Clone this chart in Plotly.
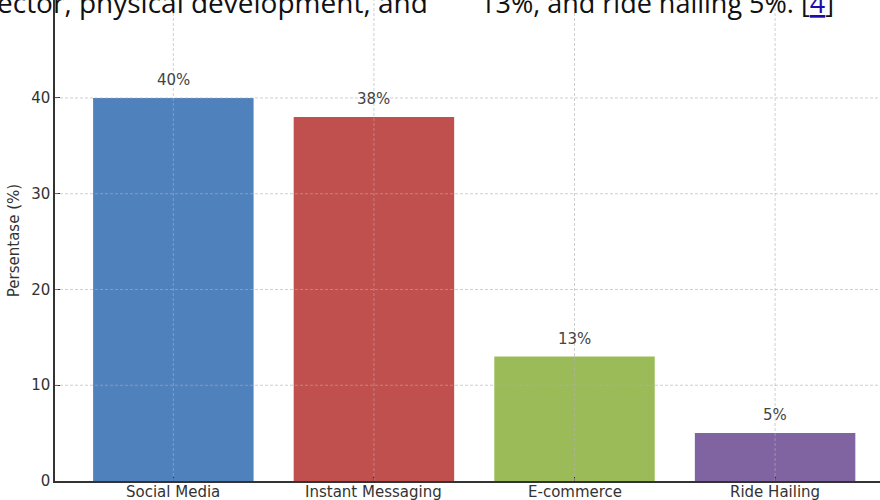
import plotly.graph_objects as go

categories = ["Social Media", "Instant Messaging", "E-commerce", "Ride Hailing"]
values = [40, 38, 13, 5]
labels = ["40%", "38%", "13%", "5%"]
colors = ["#4F81BD", "#C0504D", "#9BBB59", "#8064A2"]
y_ticks = [0, 10, 20, 30, 40]

W, H = 880, 500
ML, MR, MT, MB = 55, 0, 0, 19
PW = W - ML - MR

fig = go.Figure()
fig.add_trace(go.Bar(
    x=list(range(len(categories))), y=values, marker_color=colors,
    marker_line_width=0, width=0.8, hoverinfo="skip",
))

# value labels above bars
for i, (v, lab) in enumerate(zip(values, labels)):
    fig.add_annotation(x=i, y=v, xref="x", yref="y", text=lab, showarrow=False,
                       yanchor="middle", yshift=18,
                       font=dict(family="DejaVu Sans", size=15, color="#444444"))

# category labels placed just under the axis
for i, cat in enumerate(categories):
    fig.add_annotation(x=i, y=0, xref="x", yref="paper", text=cat, showarrow=False,
                       yanchor="top", yshift=-1, borderpad=0,
                       font=dict(family="DejaVu Sans", size=15, color="#333333"))

# grid drawn above bars (as in the reference)
grid = dict(color="rgba(175,175,175,0.6)", width=1, dash="3px,2px")
shapes = []
for v in y_ticks[1:]:
    shapes.append(dict(type="line", xref="paper", yref="y", x0=0, x1=1, y0=v, y1=v,
                       line=grid, layer="above"))
for i in range(len(categories)):
    shapes.append(dict(type="line", xref="x", yref="paper", x0=i, x1=i, y0=0, y1=1,
                       line=grid, layer="above"))

fig.update_layout(
    width=W, height=H, margin=dict(l=ML, r=MR, t=MT, b=MB, autoexpand=False),
    paper_bgcolor="white", plot_bgcolor="white", showlegend=False,
    shapes=shapes,
    font=dict(family="DejaVu Sans", color="#333333"),
)
fig.update_xaxes(
    range=[-0.59, 3.523], tickmode="array", tickvals=list(range(len(categories))),
    showticklabels=False, showgrid=False, zeroline=False, automargin=False,
    showline=True, linecolor="#333333", linewidth=1.5,
    ticks="inside", ticklen=4, tickcolor="#333333",
)
fig.update_yaxes(
    range=[0, 50.23], tickmode="array", tickvals=y_ticks, automargin=False,
    showgrid=False, zeroline=False,
    showline=True, linecolor="#333333", linewidth=1.5,
    ticks="inside", ticklen=5, tickcolor="#333333",
    tickfont=dict(family="DejaVu Sans", size=15, color="#333333"),
    title=dict(text="Persentase (%)", font=dict(family="DejaVu Sans", size=15, color="#333333"), standoff=8),
)

# cropped document text at the top of the image
fig.add_annotation(xref="paper", yref="paper", x=(430 - ML) / PW, y=1.0, xanchor="right", yanchor="middle",
                   text="ector, physical development, and", showarrow=False, yshift=-2,
                   font=dict(family="Open Sans", size=28, color="#111111"))
fig.add_annotation(xref="paper", yref="paper", x=(836 - ML) / PW, y=1.0, xanchor="right", yanchor="middle",
                   text="13%, and ride hailing 5%. [<span style='color:#1a0dab'><u>4</u></span>]", showarrow=False,
                   yshift=-2, font=dict(family="Open Sans", size=27, color="#111111"))

fig.write_html("out.html")
